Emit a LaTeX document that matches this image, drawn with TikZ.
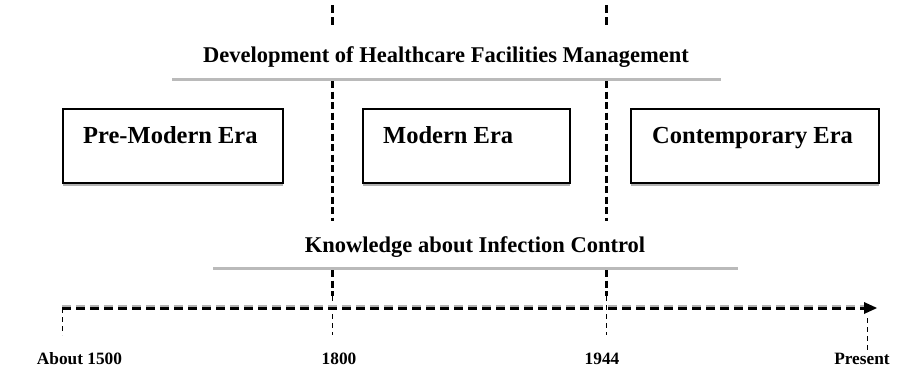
\documentclass[tikz,border=0pt]{standalone}
\usepackage{fontspec}
\setmainfont{Liberation Serif}
\usetikzlibrary{arrows.meta,shadows}
\begin{document}
\begin{tikzpicture}[x=1pt,y=-1pt,
  erabox/.style={draw=black,line width=2pt,fill=white,
    drop shadow={shadow xshift=0pt,shadow yshift=-3pt,fill=black!30,opacity=1}},
  eratext/.style={anchor=base west,inner sep=0pt,font=\bfseries\fontsize{24.5}{26}\selectfont},
  headtext/.style={anchor=base,inner sep=0pt,font=\bfseries\fontsize{22.5}{24}\selectfont},
  yeartext/.style={anchor=base,inner sep=0pt,font=\bfseries\fontsize{17.3}{19}\selectfont},
  grayrule/.style={draw=black!27,line width=3pt},
  thickdash/.style={line width=3pt,dash pattern=on 7pt off 3.5pt},
  thindash/.style={line width=1pt,dash pattern=on 5pt off 4pt},
  timedash/.style={line width=3pt,dash pattern=on 9pt off 5pt}]
\useasboundingbox[fill=white] (0,0) rectangle (914,381);
% era boxes
\draw[erabox] (63,109) rectangle (283,183);
\draw[erabox] (363,109) rectangle (570,183);
\draw[erabox] (631,109) rectangle (879,183);
\node[eratext] (pre) at (83,143) {Pre-Modern Era};
\node[eratext] (mod) at (383,143) {Modern Era};
\node[eratext] (con) at (652,143) {Contemporary Era};
% headings and rules
\node[headtext] (dev) at (446,62) {Development of Healthcare Facilities Management};
\node[headtext] (know) at (475,252) {Knowledge about Infection Control};
\coordinate (g1a) at (172,79); \coordinate (g1b) at (721,79);
\coordinate (g2a) at (213,268); \coordinate (g2b) at (738,268);
\draw[grayrule] (g1a) -- (g1b);
\draw[grayrule] (g2a) -- (g2b);
% era separators
\foreach \xx/\nm in {332/a,606/b}{
  \coordinate (t\nm1) at (\xx,5);  \coordinate (t\nm2) at (\xx,25);
  \coordinate (m\nm1) at (\xx,81); \coordinate (m\nm2) at (\xx,221);
  \coordinate (l\nm1) at (\xx,270); \coordinate (l\nm2) at (\xx,296);
  \coordinate (k\nm1) at (\xx,296); \coordinate (k\nm2) at (\xx,335);
  \draw[line width=3pt,dash pattern=on 8pt off 4pt] (t\nm1) -- (t\nm2);
  \draw[thickdash] (m\nm1) -- (m\nm2);
  \draw[thickdash] (l\nm1) -- (l\nm2);
  \draw[thindash] (k\nm1) -- (k\nm2);
}
% timeline
\coordinate (s) at (62,308);
\coordinate (e) at (864,308);
\coordinate (tip) at (877,308);
\coordinate (s2) at (62,335);
\coordinate (p1) at (867,318);
\coordinate (p2) at (867,353);
\draw[timedash,draw=black!30] ([yshift=2pt]s) -- ([yshift=2pt]e);
\draw[timedash] (s) -- (e);
\fill[black] (864,302) -- (tip) -- (864,314) -- cycle;
\draw[thindash] (s) -- (s2);
\draw[thindash] (p1) -- (p2);
% year labels
\node[yeartext] (y1) at (79.5,364) {About 1500};
\node[yeartext] (y2) at (339,364) {1800};
\node[yeartext] (y3) at (602,364) {1944};
\node[yeartext] (y4) at (862,364) {Present};
\end{tikzpicture}
\end{document}
